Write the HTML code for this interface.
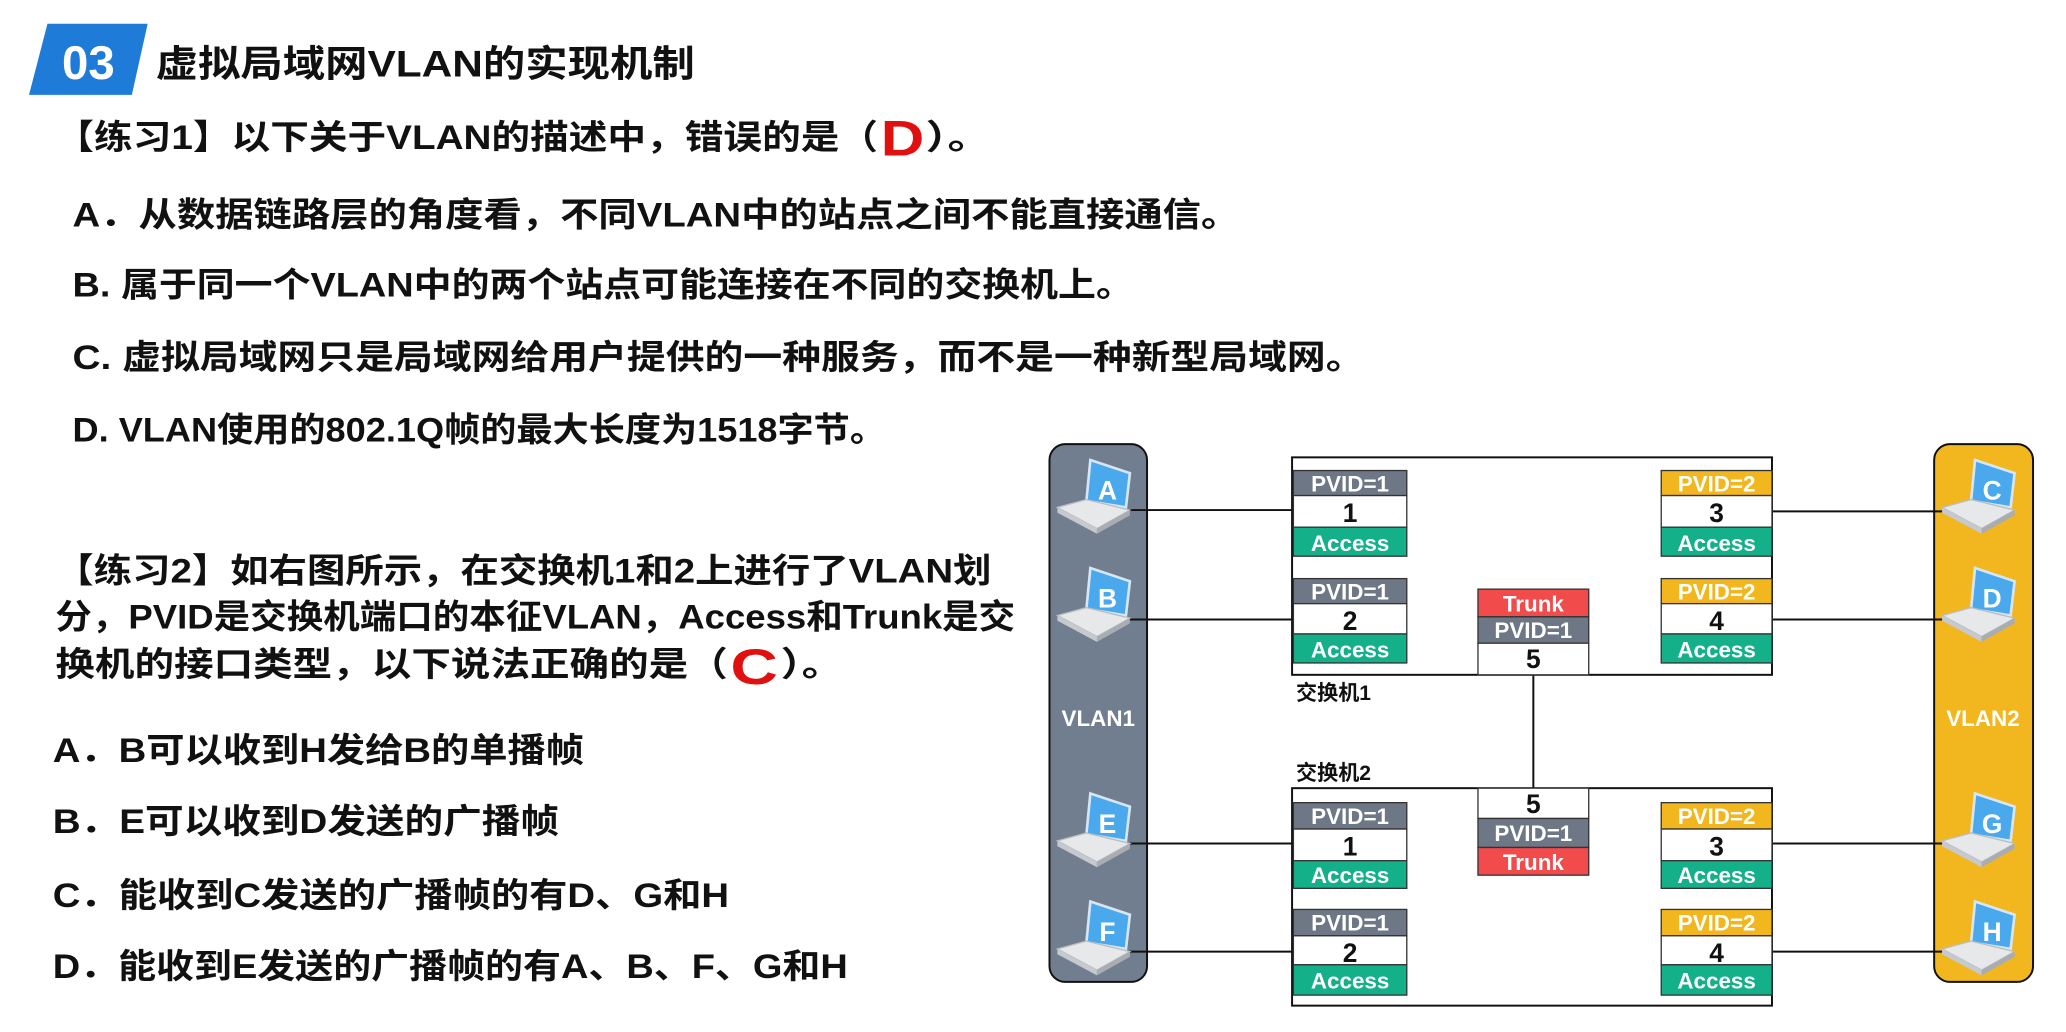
<!DOCTYPE html>
<html><head><meta charset="utf-8"><style>
html,body{margin:0;padding:0;background:#fff;}
svg{display:block}
.cn{font-family:"Liberation Sans Narrow","Liberation Sans","Noto Sans CJK SC",sans-serif;font-weight:bold;}
.lt{font-family:"Liberation Sans Narrow","Liberation Sans",sans-serif;font-weight:bold;}
</style></head><body>
<svg width="2066" height="1032" viewBox="0 0 1567 783" preserveAspectRatio="none" xmlns="http://www.w3.org/2000/svg">
<defs>
<g id="lap">
  <polygon points="25,0 55,10 52,36 22,31" fill="#4aa8ec" stroke="#d7e6f5" stroke-width="2"/>
  <polygon points="0,36 22,30 55,38 30,52" fill="#e6e8ea" stroke="#b9bdc2" stroke-width="1"/>
  <polygon points="0,36 30,52 30,56 0,40" fill="#c6cacf"/>
  <polygon points="30,52 55,38 55,42 30,56" fill="#a9adb2"/>
</g>
</defs>
<!-- header -->
<polygon points="36,18 112,18 100,72 22,72" fill="#1f7bd8"/>
<text x="47" y="60" class="lt" font-size="36" fill="#fff" textLength="40" lengthAdjust="spacingAndGlyphs">03</text>
<text x="118" y="58" class="cn" font-size="28" fill="#111" textLength="409" lengthAdjust="spacingAndGlyphs">虚拟局域网VLAN的实现机制</text>

<g class="cn" font-size="26" fill="#111">
<text x="42" y="113" textLength="624" lengthAdjust="spacingAndGlyphs">【练习1】以下关于VLAN的描述中，错误的是（</text>
<text x="668" y="118" font-size="38" fill="#e01010" font-family="Liberation Sans" textLength="33" lengthAdjust="spacingAndGlyphs">D</text>
<text x="702" y="113" textLength="50" lengthAdjust="spacingAndGlyphs">）。</text>
<text x="55" y="172" textLength="885" lengthAdjust="spacingAndGlyphs">A．从数据链路层的角度看，不同VLAN中的站点之间不能直接通信。</text>
<text x="55" y="225" textLength="805" lengthAdjust="spacingAndGlyphs">B. 属于同一个VLAN中的两个站点可能连接在不同的交换机上。</text>
<text x="55" y="280" textLength="980" lengthAdjust="spacingAndGlyphs">C. 虚拟局域网只是局域网给用户提供的一种服务，而不是一种新型局域网。</text>
<text x="55" y="335" textLength="617" lengthAdjust="spacingAndGlyphs">D. VLAN使用的802.1Q帧的最大长度为1518字节。</text>

<text x="42" y="442" textLength="710" lengthAdjust="spacingAndGlyphs">【练习2】如右图所示，在交换机1和2上进行了VLAN划</text>
<text x="42" y="477" textLength="728" lengthAdjust="spacingAndGlyphs">分，PVID是交换机端口的本征VLAN，Access和Trunk是交</text>
<text x="42" y="513" textLength="510" lengthAdjust="spacingAndGlyphs">换机的接口类型，以下说法正确的是（</text>
<text x="554" y="519" font-size="38" fill="#e01010" font-family="Liberation Sans" textLength="36" lengthAdjust="spacingAndGlyphs">C</text>
<text x="592" y="513" textLength="48" lengthAdjust="spacingAndGlyphs">）。</text>
<text x="40" y="578" textLength="403" lengthAdjust="spacingAndGlyphs">A．B可以收到H发给B的单播帧</text>
<text x="40" y="632" textLength="384" lengthAdjust="spacingAndGlyphs">B．E可以收到D发送的广播帧</text>
<text x="40" y="688" textLength="513" lengthAdjust="spacingAndGlyphs">C．能收到C发送的广播帧的有D、G和H</text>
<text x="40" y="742" textLength="603" lengthAdjust="spacingAndGlyphs">D．能收到E发送的广播帧的有A、B、F、G和H</text>
</g>

<!-- VLAN bars -->
<rect x="796" y="337" width="74" height="408" rx="12" fill="#717e8f" stroke="#111" stroke-width="1.5"/>
<rect x="1467" y="337" width="75" height="408" rx="12" fill="#f2b61e" stroke="#111" stroke-width="1.5"/>
<text x="833" y="551" class="lt" font-size="17" fill="#fff" text-anchor="middle">VLAN1</text>
<text x="1504" y="551" class="lt" font-size="17" fill="#fff" text-anchor="middle">VLAN2</text>

<!-- connectors -->
<g stroke="#111" stroke-width="1.5">
<line x1="855" y1="387" x2="981" y2="387"/>
<line x1="855" y1="470" x2="981" y2="470"/>
<line x1="855" y1="640" x2="981" y2="640"/>
<line x1="855" y1="722" x2="981" y2="722"/>
<line x1="1344" y1="388" x2="1487" y2="388"/>
<line x1="1344" y1="470" x2="1487" y2="470"/>
<line x1="1344" y1="640" x2="1487" y2="640"/>
<line x1="1344" y1="722" x2="1487" y2="722"/>
<line x1="1163" y1="512" x2="1163" y2="598"/>
</g>

<!-- switches -->
<rect x="980" y="347" width="364" height="165" fill="#fff" stroke="#111" stroke-width="1.5"/>
<rect x="980" y="598" width="364" height="165" fill="#fff" stroke="#111" stroke-width="1.5"/>
<text x="983" y="531" class="cn" font-size="16" fill="#111">交换机1</text>
<text x="983" y="592" class="cn" font-size="16" fill="#111">交换机2</text>

<g class="lt" font-size="17" text-anchor="middle">
<rect x="981" y="357" width="86" height="19" fill="#6e7785" stroke="#333"/><text x="1024" y="373" fill="#fff">PVID=1</text>
<rect x="981" y="376" width="86" height="24" fill="#fff" stroke="#333"/><text x="1024" y="396" fill="#111" font-size="20">1</text>
<rect x="981" y="400" width="86" height="22" fill="#14b08a" stroke="#333"/><text x="1024" y="418" fill="#fff">Access</text>
<rect x="981" y="439" width="86" height="19" fill="#6e7785" stroke="#333"/><text x="1024" y="455" fill="#fff">PVID=1</text>
<rect x="981" y="458" width="86" height="23" fill="#fff" stroke="#333"/><text x="1024" y="478" fill="#111" font-size="20">2</text>
<rect x="981" y="481" width="86" height="22" fill="#14b08a" stroke="#333"/><text x="1024" y="499" fill="#fff">Access</text>
<rect x="1260" y="357" width="84" height="19" fill="#f2b61e" stroke="#333"/><text x="1302" y="373" fill="#fff">PVID=2</text>
<rect x="1260" y="376" width="84" height="24" fill="#fff" stroke="#333"/><text x="1302" y="396" fill="#111" font-size="20">3</text>
<rect x="1260" y="400" width="84" height="22" fill="#14b08a" stroke="#333"/><text x="1302" y="418" fill="#fff">Access</text>
<rect x="1260" y="439" width="84" height="19" fill="#f2b61e" stroke="#333"/><text x="1302" y="455" fill="#fff">PVID=2</text>
<rect x="1260" y="458" width="84" height="23" fill="#fff" stroke="#333"/><text x="1302" y="478" fill="#111" font-size="20">4</text>
<rect x="1260" y="481" width="84" height="22" fill="#14b08a" stroke="#333"/><text x="1302" y="499" fill="#fff">Access</text>
<rect x="1121" y="447" width="84" height="21" fill="#f24b4b" stroke="#333"/><text x="1163" y="464" fill="#fff">Trunk</text>
<rect x="1121" y="468" width="84" height="20" fill="#6e7785" stroke="#333"/><text x="1163" y="484" fill="#fff">PVID=1</text>
<rect x="1121" y="488" width="84" height="24" fill="#fff" stroke="#333"/><text x="1163" y="507" fill="#111" font-size="20">5</text>

<rect x="1121" y="598" width="84" height="23" fill="#fff" stroke="#333"/><text x="1163" y="617" fill="#111" font-size="20">5</text>
<rect x="1121" y="621" width="84" height="22" fill="#6e7785" stroke="#333"/><text x="1163" y="638" fill="#fff">PVID=1</text>
<rect x="1121" y="643" width="84" height="21" fill="#f24b4b" stroke="#333"/><text x="1163" y="660" fill="#fff">Trunk</text>
<rect x="981" y="609" width="86" height="20" fill="#6e7785" stroke="#333"/><text x="1024" y="625" fill="#fff">PVID=1</text>
<rect x="981" y="629" width="86" height="24" fill="#fff" stroke="#333"/><text x="1024" y="649" fill="#111" font-size="20">1</text>
<rect x="981" y="653" width="86" height="21" fill="#14b08a" stroke="#333"/><text x="1024" y="670" fill="#fff">Access</text>
<rect x="981" y="690" width="86" height="20" fill="#6e7785" stroke="#333"/><text x="1024" y="706" fill="#fff">PVID=1</text>
<rect x="981" y="710" width="86" height="22" fill="#fff" stroke="#333"/><text x="1024" y="730" fill="#111" font-size="20">2</text>
<rect x="981" y="732" width="86" height="23" fill="#14b08a" stroke="#333"/><text x="1024" y="750" fill="#fff">Access</text>
<rect x="1260" y="609" width="84" height="20" fill="#f2b61e" stroke="#333"/><text x="1302" y="625" fill="#fff">PVID=2</text>
<rect x="1260" y="629" width="84" height="24" fill="#fff" stroke="#333"/><text x="1302" y="649" fill="#111" font-size="20">3</text>
<rect x="1260" y="653" width="84" height="21" fill="#14b08a" stroke="#333"/><text x="1302" y="670" fill="#fff">Access</text>
<rect x="1260" y="690" width="84" height="20" fill="#f2b61e" stroke="#333"/><text x="1302" y="706" fill="#fff">PVID=2</text>
<rect x="1260" y="710" width="84" height="22" fill="#fff" stroke="#333"/><text x="1302" y="730" fill="#111" font-size="20">4</text>
<rect x="1260" y="732" width="84" height="23" fill="#14b08a" stroke="#333"/><text x="1302" y="750" fill="#fff">Access</text>
</g>

<g class="lt" font-size="20" fill="#fff" text-anchor="middle">
<use href="#lap" x="802" y="349"/><text x="840" y="379">A</text>
<use href="#lap" x="802" y="431"/><text x="840" y="461">B</text>
<use href="#lap" x="802" y="602"/><text x="840" y="632">E</text>
<use href="#lap" x="802" y="684"/><text x="840" y="714">F</text>
<use href="#lap" x="1473" y="349"/><text x="1511" y="379">C</text>
<use href="#lap" x="1473" y="431"/><text x="1511" y="461">D</text>
<use href="#lap" x="1473" y="602"/><text x="1511" y="632">G</text>
<use href="#lap" x="1473" y="684"/><text x="1511" y="714">H</text>
</g>
</svg>
</body></html>
